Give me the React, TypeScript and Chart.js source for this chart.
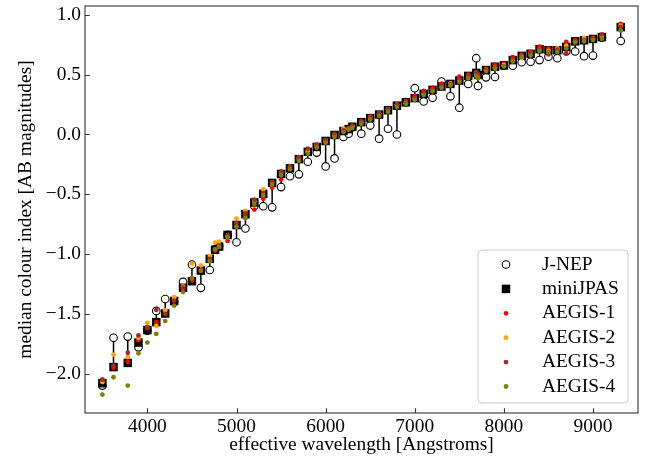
import React, { useEffect, useRef } from 'react';
import { Chart, registerables } from 'chart.js';

Chart.register(...registerables);

const wavelengths = [3495, 3620, 3780, 3900, 4000, 4100, 4200, 4300, 4400, 4500, 4600, 4700, 4760, 4805, 4900, 5000, 5100, 5200, 5300, 5400, 5500, 5600, 5700, 5800, 5900, 6000, 6100, 6200, 6258, 6300, 6400, 6500, 6600, 6700, 6800, 6900, 7000, 7100, 7200, 7300, 7400, 7500, 7600, 7690, 7710, 7800, 7900, 8000, 8100, 8200, 8300, 8400, 8500, 8600, 8700, 8800, 8900, 9000, 9100, 9311];

const jnep = [-2.10, -1.70, -1.69, -1.78, -1.64, -1.475, -1.376, -1.40, -1.233, -1.089, -1.282, -1.133, -0.96, -0.93, -0.84, -0.901, -0.786, -0.598, -0.600, -0.609, -0.440, -0.349, -0.333, -0.228, -0.151, -0.267, -0.200, -0.021, 0.007, 0.06, 0.007, 0.075, -0.035, 0.048, 0.0, 0.27, 0.387, 0.277, 0.307, 0.443, 0.319, 0.224, 0.423, 0.638, 0.406, 0.478, 0.481, 0.575, 0.575, 0.605, 0.608, 0.622, 0.650, 0.638, 0.694, 0.694, 0.655, 0.660, 0.81, 0.782];

const minijpas = [-2.08, -1.945, -1.91, -1.74, -1.635, -1.569, -1.497, -1.392, -1.282, -1.227, -1.138, -1.040, -0.964, -0.937, -0.840, -0.757, -0.667, -0.568, -0.496, -0.405, -0.330, -0.283, -0.206, -0.145, -0.104, -0.054, -0.004, 0.029, 0.045, 0.065, 0.103, 0.137, 0.167, 0.203, 0.241, 0.269, 0.304, 0.340, 0.373, 0.401, 0.423, 0.451, 0.490, 0.515, 0.498, 0.539, 0.567, 0.578, 0.622, 0.658, 0.675, 0.713, 0.705, 0.705, 0.733, 0.779, 0.788, 0.799, 0.815, 0.898];

const aegis1 = [-2.05, -1.95, -1.90, -1.72, -1.61, -1.57, -1.50, -1.385, -1.285, -1.22, -1.13, -1.05, -0.97, -0.94, -0.89, -0.77, -0.68, -0.628, -0.537, -0.446, -0.377, -0.29, -0.21, -0.15, -0.10, -0.06, -0.01, 0.03, 0.045, 0.07, 0.11, 0.15, 0.17, 0.21, 0.245, 0.28, 0.32, 0.365, 0.39, 0.426, 0.43, 0.484, 0.50, 0.52, 0.50, 0.55, 0.584, 0.59, 0.647, 0.67, 0.69, 0.735, 0.72, 0.72, 0.774, 0.79, 0.80, 0.81, 0.83, 0.925];

const aegis2 = [-2.07, -1.84, -1.86, -1.70, -1.575, -1.60, -1.47, -1.36, -1.27, -1.08, -1.094, -1.017, -0.904, -0.896, -0.85, -0.703, -0.639, -0.56, -0.459, -0.40, -0.32, -0.27, -0.20, -0.14, -0.085, -0.05, 0.0, 0.048, 0.05, 0.07, 0.105, 0.14, 0.175, 0.21, 0.25, 0.26, 0.30, 0.34, 0.37, 0.40, 0.425, 0.455, 0.49, 0.51, 0.49, 0.54, 0.56, 0.58, 0.62, 0.64, 0.68, 0.71, 0.70, 0.72, 0.74, 0.78, 0.807, 0.80, 0.82, 0.91];

const aegis3 = [-2.05, -1.933, -1.825, -1.68, -1.62, -1.467, -1.50, -1.39, -1.28, -1.21, -1.138, -1.04, -0.96, -0.93, -0.84, -0.74, -0.66, -0.545, -0.49, -0.40, -0.308, -0.27, -0.19, -0.118, -0.085, -0.045, 0.005, 0.035, 0.05, 0.075, 0.11, 0.14, 0.18, 0.21, 0.25, 0.27, 0.31, 0.35, 0.37, 0.41, 0.42, 0.46, 0.49, 0.52, 0.50, 0.54, 0.56, 0.57, 0.62, 0.66, 0.68, 0.71, 0.67, 0.71, 0.68, 0.78, 0.79, 0.80, 0.837, 0.90];

const aegis4 = [-2.175, -2.03, -2.10, -1.83, -1.74, -1.668, -1.56, -1.431, -1.318, -1.20, -1.14, -1.06, -0.96, -0.94, -0.86, -0.77, -0.70, -0.58, -0.51, -0.42, -0.34, -0.29, -0.22, -0.16, -0.11, -0.07, -0.02, 0.02, 0.04, 0.055, 0.09, 0.125, 0.155, 0.19, 0.23, 0.26, 0.29, 0.33, 0.36, 0.39, 0.41, 0.44, 0.47, 0.49, 0.47, 0.53, 0.55, 0.57, 0.61, 0.65, 0.66, 0.70, 0.69, 0.69, 0.72, 0.77, 0.78, 0.79, 0.80, 0.87];

const xTicks = [4000, 5000, 6000, 7000, 8000, 9000];
const yTicks = [-2.0, -1.5, -1.0, -0.5, 0.0, 0.5, 1.0];

const seriesLabels = ['J-NEP', 'miniJPAS', 'AEGIS-1', 'AEGIS-2', 'AEGIS-3', 'AEGIS-4'];
const xTitle = 'effective wavelength [Angstroms]';
const yTitle = 'median colour index [AB magnitudes]';

const FONT = '"Liberation Serif", "Times New Roman", Times, serif';
const FS = 19.4;

const toXY = (ys: number[]) => wavelengths.map((w, i) => ({ x: w, y: ys[i] }));

const framePlugin = {
  id: 'frameAndLegend',
  afterDraw(chart: any) {
    const { ctx, chartArea } = chart;
    const { left, right, top, bottom } = chartArea;
    ctx.save();
    ctx.strokeStyle = '#333';
    ctx.lineWidth = 1.1;
    ctx.strokeRect(left, top, right - left, bottom - top);
    const xs = chart.scales.x;
    const ys = chart.scales.y;
    ctx.beginPath();
    xs.ticks.forEach((t: any) => {
      const px = Math.round(xs.getPixelForValue(t.value)) + 0.5;
      ctx.moveTo(px, bottom);
      ctx.lineTo(px, bottom - 4.8);
    });
    ys.ticks.forEach((t: any) => {
      const py = Math.round(ys.getPixelForValue(t.value)) + 0.5;
      ctx.moveTo(left, py);
      ctx.lineTo(left + 4.8, py);
    });
    ctx.stroke();

    const items = chart.data.datasets.filter((d: any) => d.label);
    const bw = 150;
    const bh = 153;
    const bx = right - 10 - bw;
    const by = bottom - 10 - bh;
    const r = 4;
    ctx.beginPath();
    ctx.moveTo(bx + r, by);
    ctx.lineTo(bx + bw - r, by);
    ctx.arcTo(bx + bw, by, bx + bw, by + r, r);
    ctx.lineTo(bx + bw, by + bh - r);
    ctx.arcTo(bx + bw, by + bh, bx + bw - r, by + bh, r);
    ctx.lineTo(bx + r, by + bh);
    ctx.arcTo(bx, by + bh, bx, by + bh - r, r);
    ctx.lineTo(bx, by + r);
    ctx.arcTo(bx, by, bx + r, by, r);
    ctx.closePath();
    ctx.fillStyle = 'rgba(255,255,255,0.8)';
    ctx.fill();
    ctx.strokeStyle = '#cccccc';
    ctx.lineWidth = 1;
    ctx.stroke();

    ctx.font = `${FS}px ${FONT}`;
    ctx.textBaseline = 'middle';
    ctx.textAlign = 'left';
    items.forEach((d: any, i: number) => {
      const cy = by + 14.5 + i * 24.4;
      const mx = bx + 28;
      if (d.pointStyle === 'rect') {
        const s = d.pointRadius * Math.SQRT1_2;
        ctx.fillStyle = d.pointBackgroundColor;
        ctx.fillRect(mx - s, cy - s, 2 * s, 2 * s);
      } else {
        ctx.beginPath();
        ctx.arc(mx, cy, d.pointRadius, 0, Math.PI * 2);
        ctx.fillStyle = d.pointBackgroundColor;
        ctx.fill();
        if (d.pointBorderWidth > 0) {
          ctx.strokeStyle = d.pointBorderColor;
          ctx.lineWidth = d.pointBorderWidth;
          ctx.stroke();
        }
      }
      ctx.fillStyle = '#000';
      ctx.fillText(d.label, bx + 64, cy);
    });
    ctx.restore();
  },
};

export default function App() {
  const ref = useRef<HTMLCanvasElement | null>(null);

  useEffect(() => {
    if (!ref.current) return;
    const connectors: any[] = [];
    wavelengths.forEach((w, i) => {
      connectors.push({ x: w, y: jnep[i] });
      connectors.push({ x: w, y: minijpas[i] });
      connectors.push({ x: w, y: null });
    });

    const dot = (label: string, data: number[], color: string, order: number) => ({
      label,
      data: toXY(data),
      showLine: false,
      pointStyle: 'circle',
      pointRadius: 2.4,
      pointBackgroundColor: color,
      pointBorderColor: color,
      pointBorderWidth: 0,
      order,
    });

    const chart = new Chart(ref.current, {
      type: 'line',
      data: {
        datasets: [
          {
            label: seriesLabels[0],
            data: toXY(jnep),
            showLine: false,
            pointStyle: 'circle',
            pointRadius: 3.8,
            pointBackgroundColor: '#ffffff',
            pointBorderColor: '#000000',
            pointBorderWidth: 1.1,
            order: 5,
          },
          {
            label: seriesLabels[1],
            data: toXY(minijpas),
            showLine: false,
            pointStyle: 'rect',
            pointRadius: 6,
            pointBackgroundColor: '#000000',
            pointBorderColor: '#000000',
            pointBorderWidth: 0,
            order: 4,
          },
          dot(seriesLabels[2], aegis1, '#ff0000', 3),
          dot(seriesLabels[3], aegis2, '#ffa500', 2),
          dot(seriesLabels[4], aegis3, '#a52a2a', 1),
          dot(seriesLabels[5], aegis4, '#808000', 0),
          {
            label: '',
            data: connectors,
            showLine: true,
            spanGaps: false,
            borderColor: '#000000',
            borderWidth: 1.5,
            pointRadius: 0,
            order: 6,
          },
        ] as any,
      },
      plugins: [framePlugin],
      options: {
        responsive: false,
        animation: false,
        devicePixelRatio: 1,
        layout: { padding: { top: 2, right: 13, left: 0, bottom: 0 } },
        plugins: {
          legend: { display: false },
          tooltip: { enabled: false },
        },
        scales: {
          x: {
            type: 'linear',
            min: 3300,
            max: 9505,
            afterBuildTicks: (scale: any) => {
              scale.ticks = xTicks.map((v) => ({ value: v }));
            },
            afterFit: (scale: any) => {
              scale.height = 48;
              scale.paddingLeft = 0;
              scale.paddingRight = 0;
            },
            grid: { display: false, drawTicks: false },
            border: { display: false },
            ticks: {
              padding: 2,
              color: '#000',
              font: { family: FONT, size: FS },
              callback: (v: any) => String(v),
              maxRotation: 0,
            },
            title: {
              display: true,
              text: xTitle,
              color: '#000',
              font: { family: FONT, size: FS },
              padding: { top: 0, bottom: 4 },
            },
          },
          y: {
            type: 'linear',
            min: -2.329,
            max: 1.0746,
            afterBuildTicks: (scale: any) => {
              scale.ticks = yTicks.map((v) => ({ value: v }));
            },
            afterFit: (scale: any) => {
              scale.width = 85;
              scale.paddingTop = 0;
              scale.paddingBottom = 0;
            },
            grid: { display: false, drawTicks: false },
            border: { display: false },
            ticks: {
              padding: 4,
              color: '#000',
              font: { family: FONT, size: FS },
              callback: (v: any) => (v < 0 ? '\u2212' : '') + Math.abs(Number(v)).toFixed(1),
            },
            title: {
              display: true,
              text: yTitle,
              color: '#000',
              font: { family: FONT, size: FS },
              padding: { top: 14, bottom: 0 },
            },
          },
        },
      } as any,
    });
    return () => chart.destroy();
  }, []);

  return (
    <div style={{ position: 'fixed', left: 0, top: 0, width: 651, height: 461, background: '#fff' }}>
      <canvas ref={ref} width={651} height={461} style={{ display: 'block', width: 651, height: 461 }} />
    </div>
  );
}
